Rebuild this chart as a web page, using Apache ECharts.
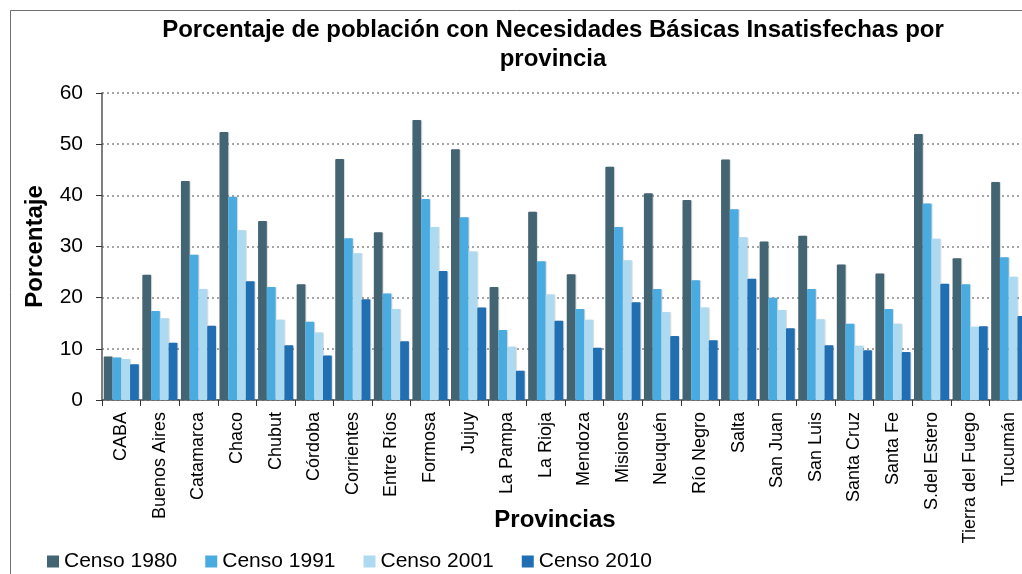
<!DOCTYPE html>
<html>
<head>
<meta charset="utf-8">
<script src="https://cdn.jsdelivr.net/npm/echarts@6/dist/echarts.min.js"></script>
<style>
html,body{margin:0;padding:0;background:#fff;}
#chart{width:1022px;height:574px;}
</style>
</head>
<body>
<div id="chart"></div>
<script>
const categories = ["CABA","Buenos Aires","Catamarca","Chaco","Chubut","Córdoba","Corrientes","Entre Ríos","Formosa","Jujuy","La Pampa","La Rioja","Mendoza","Misiones","Neuquén","Río Negro","Salta","San Juan","San Luis","Santa Cruz","Santa Fe","S.del Estero","Tierra del Fuego","Tucumán"];
const censo1980 = [8.5,24.5,42.8,52.4,35.0,22.6,47.1,32.8,54.7,49.0,22.1,36.8,24.6,45.6,40.4,39.1,47.0,31.0,32.1,26.5,24.7,52.0,27.7,42.6];
const censo1991 = [8.3,17.4,28.4,39.7,22.1,15.3,31.6,20.8,39.3,35.7,13.7,27.1,17.8,33.8,21.7,23.4,37.3,20.0,21.7,14.9,17.8,38.4,22.6,27.9];
const censo2001 = [8.0,16.0,21.7,33.2,15.7,13.2,28.7,17.8,33.8,29.0,10.4,20.6,15.7,27.3,17.2,18.1,31.8,17.6,15.8,10.6,14.9,31.5,14.3,24.1];
const censo2010 = [7.0,11.2,14.5,23.2,10.7,8.7,19.7,11.5,25.2,18.1,5.7,15.5,10.2,19.1,12.5,11.7,23.7,14.0,10.7,9.7,9.4,22.7,14.4,16.4];
const seriesNames = ["Censo 1980","Censo 1991","Censo 2001","Censo 2010"];
const yTicks = [0,10,20,30,40,50,60];

const colors = ["#436573","#4AABE1","#ADDAF0","#1F6FB2"];
const font = "Liberation Sans, Arial, sans-serif";
const chart = echarts.init(document.getElementById('chart'));
const allData = [censo1980,censo1991,censo2001,censo2010];
chart.setOption({
  animation:false,
  color: colors,
  title:{
    text:"Porcentaje de población con Necesidades Básicas Insatisfechas por\nprovincia",
    left:548, top:11, textAlign:'center',
    textStyle:{fontFamily:font,fontSize:24,fontWeight:'bold',color:'#000',lineHeight:29}
  },
  graphic:[{type:'rect',shape:{x:10.5,y:10.5,width:1100,height:700},style:{fill:'none',stroke:'#6f6f6f',lineWidth:1},silent:true}],
  legend:{
    left:42, top:546, itemWidth:12, itemHeight:12, itemGap:28,
    icon:'rect',
    textStyle:{fontFamily:font,fontSize:21,color:'#000'},
    data:seriesNames
  },
  grid:{left:102, top:93, width:926, height:307, containLabel:false, outerBoundsMode:'none'},
  xAxis:{
    type:'category', data:categories,
    axisLine:{lineStyle:{color:'#555',width:1.5}},
    axisTick:{show:true,length:6,lineStyle:{color:'#333'}},
    axisLabel:{rotate:90,fontFamily:font,fontSize:18,color:'#000',margin:12,interval:0},
    name:'Provincias', nameLocation:'middle', nameGap:108, nameMoveOverlap:false,
    nameTextStyle:{fontFamily:font,fontSize:24,fontWeight:'bold',color:'#000',padding:[0,20,0,0]}
  },
  yAxis:{
    type:'value', min:0, max:60, interval:10,
    axisLine:{show:true,lineStyle:{color:'#555',width:1.5}},
    axisTick:{show:true,length:6,lineStyle:{color:'#333'}},
    axisLabel:{fontFamily:font,fontSize:21,color:'#000',margin:19,
      formatter:function(v){return yTicks.indexOf(v)>=0?String(v):'';}},
    splitLine:{lineStyle:{color:'#888',type:[2,3],width:1.5}},
    name:'Porcentaje', nameLocation:'middle', nameGap:55, nameRotate:90, nameMoveOverlap:false,
    nameTextStyle:{fontFamily:font,fontSize:24,fontWeight:'bold',color:'#000'}
  },
  series: seriesNames.map((n,i)=>({
    name:n, type:'bar', data:allData[i],
    barGap:'0%', barCategoryGap:'9%',
    itemStyle:{color:colors[i],borderRadius:[1,1,0,0],shadowColor:'rgba(0,0,0,0.15)',shadowOffsetX:1,shadowBlur:1}
  }))
});
</script>
</body>
</html>
